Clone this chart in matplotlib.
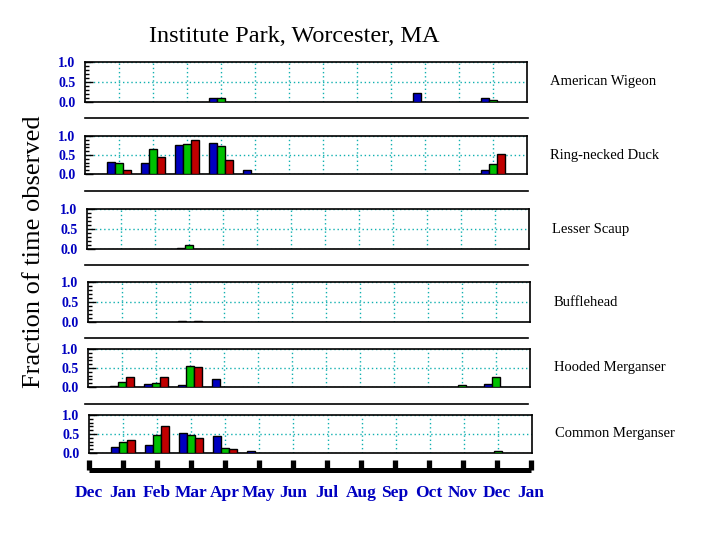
import matplotlib
matplotlib.use("Agg")
import matplotlib.pyplot as plt
from matplotlib.lines import Line2D
import numpy as np

# month labels on the time axis (Dec .. Jan, 14 positions)
axis_months = ["Dec", "Jan", "Feb", "Mar", "Apr", "May", "Jun",
               "Jul", "Aug", "Sep", "Oct", "Nov", "Dec", "Jan"]

species = ["American Wigeon", "Ring-necked Duck", "Lesser Scaup",
           "Bufflehead", "Hooded Merganser", "Common Merganser"]

# fraction of time observed, Jan..Dec, three series (blue, green, red)
wigeon_blue  = [0, 0, 0, 0.10, 0, 0, 0, 0, 0, 0.23, 0, 0.10]
wigeon_green = [0, 0, 0, 0.10, 0, 0, 0, 0, 0, 0, 0, 0.05]
wigeon_red   = [0, 0, 0, 0, 0, 0, 0, 0, 0, 0, 0, 0]

ringneck_blue  = [0.32, 0.29, 0.76, 0.81, 0.11, 0, 0, 0, 0, 0, 0, 0.11]
ringneck_green = [0.29, 0.66, 0.78, 0.73, 0, 0, 0, 0, 0, 0, 0, 0.27]
ringneck_red   = [0.11, 0.45, 0.89, 0.37, 0, 0, 0, 0, 0, 0, 0, 0.52]

scaup_blue  = [0, 0, 0.02, 0, 0, 0, 0, 0, 0, 0, 0, 0]
scaup_green = [0, 0, 0.10, 0, 0, 0, 0, 0, 0, 0, 0, 0]
scaup_red   = [0, 0, 0, 0, 0, 0, 0, 0, 0, 0, 0, 0]

buffle_blue  = [0, 0, 0.02, 0, 0, 0, 0, 0, 0, 0, 0, 0]
buffle_green = [0, 0, 0, 0, 0, 0, 0, 0, 0, 0, 0, 0]
buffle_red   = [0, 0, 0.02, 0, 0, 0, 0, 0, 0, 0, 0, 0]

hooded_blue  = [0.025, 0.085, 0.05, 0.21, 0, 0, 0, 0, 0, 0, 0, 0.085]
hooded_green = [0.13, 0.10, 0.54, 0, 0, 0, 0, 0, 0, 0, 0.05, 0.26]
hooded_red   = [0.26, 0.26, 0.52, 0, 0, 0, 0, 0, 0, 0, 0, 0]

common_blue  = [0.155, 0.21, 0.52, 0.44, 0.05, 0, 0, 0, 0, 0, 0, 0]
common_green = [0.28, 0.47, 0.47, 0.13, 0, 0, 0, 0, 0, 0, 0, 0.05]
common_red   = [0.34, 0.70, 0.39, 0.10, 0, 0, 0, 0, 0, 0, 0, 0]

all_data = [
    (wigeon_blue, wigeon_green, wigeon_red),
    (ringneck_blue, ringneck_green, ringneck_red),
    (scaup_blue, scaup_green, scaup_red),
    (buffle_blue, buffle_green, buffle_red),
    (hooded_blue, hooded_green, hooded_red),
    (common_blue, common_green, common_red),
]

colors = ["#0000c0", "#00c000", "#c00000"]
tick_blue = "#0000c0"
grid_col = "#10b0b0"
serif = "Liberation Serif"

W, H = 704, 536
fig = plt.figure(figsize=(W / 100, H / 100), dpi=100)


def px_rect(left, top, right, bottom):
    return [left / W, 1 - bottom / H, (right - left) / W, (bottom - top) / H]


# panel boxes in pixels: left, top, right, bottom
panels = [(85, 62, 527, 102), (85, 136, 527, 174), (87, 209, 529, 249),
          (88, 282, 530, 322), (88, 349, 530, 387), (89, 415, 532, 453)]
label_x = [550, 550, 552, 554, 554, 555]
separators = [118, 191, 265, 338, 404]

months = np.arange(1, 13)
bw = 0.235

for i, (box, name, series) in enumerate(zip(panels, species, all_data)):
    ax = fig.add_axes(px_rect(*box))
    for k, vals in enumerate(series):
        vals = np.array(vals)
        keep = vals > 0
        ax.bar(months[keep] + (k - 1) * bw, vals[keep], width=bw,
               color=colors[k], edgecolor="black", linewidth=1, zorder=3)
    ax.set_xlim(0, 13)
    ax.set_ylim(0, 1)
    ax.set_xticks(months)
    ax.tick_params(axis="x", length=0, labelbottom=False)
    ax.set_yticks([0, 0.5, 1.0])
    ax.set_yticklabels(["0.0", "0.5", "1.0"])
    ax.set_yticks(np.arange(0.1, 1.0, 0.1), minor=True)
    ax.tick_params(axis="y", direction="in", length=6, width=1, pad=7,
                   labelsize=10, labelcolor=tick_blue)
    ax.tick_params(axis="y", which="minor", direction="in", length=3, width=1)
    for lab in ax.get_yticklabels():
        lab.set_fontfamily(serif)
        lab.set_fontweight("bold")
    ax.grid(True, color=grid_col, linestyle=(0, (1, 2)), linewidth=1, zorder=0)
    for s in ax.spines.values():
        s.set_linewidth(1.2)
    cy = (box[1] + box[3]) / 2
    fig.text(label_x[i] / W, 1 - cy / H, name, fontsize=10.5,
             family=serif, ha="left", va="center")

# horizontal separator lines between panels
for y in separators:
    fig.add_artist(Line2D([85 / W, 528 / W], [1 - y / H, 1 - y / H],
                          color="black", linewidth=1.2))

# time axis at the bottom
tax = fig.add_axes([89 / W, 1 - 470 / H, 442 / W, 0.01])
tax.set_facecolor("none")
for side in ["top", "left", "right"]:
    tax.spines[side].set_visible(False)
tax.spines["bottom"].set_linewidth(3.6)
tax.spines["bottom"].set_capstyle("butt")
tax.set_xlim(0, 13)
tax.set_yticks([])
tax.set_xticks(np.arange(14))
tax.set_xticklabels(axis_months)
tax.tick_params(axis="x", direction="in", length=7, width=3.8, pad=11,
                labelsize=12.5, labelcolor=tick_blue)
for lab in tax.get_xticklabels():
    lab.set_fontfamily(serif)
    lab.set_fontweight("bold")

fig.text(294 / W, 1 - 37 / H, "Institute Park, Worcester, MA", fontsize=17.5,
         family=serif, ha="center", va="center")
fig.text(34 / W, 1 - 252 / H, "Fraction of time observed", fontsize=19,
         family=serif, rotation=90, ha="center", va="center")

fig.savefig("out.png", dpi=100)
